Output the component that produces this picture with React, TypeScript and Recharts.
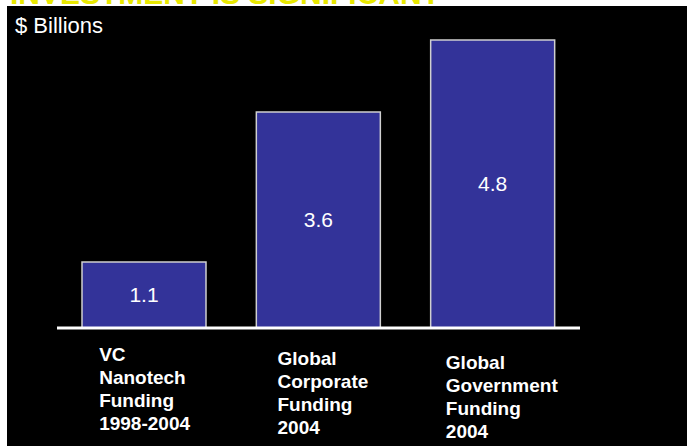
import { BarChart, Bar, XAxis, YAxis, LabelList } from 'recharts';

const categories = [
  'VC|Nanotech|Funding|1998-2004',
  'Global|Corporate|Funding|2004',
  'Global|Government|Funding|2004',
];
const billions = [1.1, 3.6, 4.8];

const data = categories.map((name, i) => ({ name, value: billions[i] }));

// per-label nudges so the tick text sits where the slide had it
const tickDx = [-45, -41, -47];
const tickDy = [33, 37, 41];

function FundingTick(props: any) {
  const { x, y, payload, index } = props;
  const lines = String(payload.value).split('|');
  return (
    <text
      x={x + tickDx[index]}
      y={y + tickDy[index]}
      fill="#fff"
      fontSize={19}
      fontWeight="bold"
      fontFamily="'Liberation Sans', Arial, sans-serif"
      textAnchor="start"
    >
      {lines.map((line, i) => (
        <tspan key={i} x={x + tickDx[index]} dy={i === 0 ? 0 : 23}>
          {line}
        </tspan>
      ))}
    </text>
  );
}

export default function App() {
  return (
    <div
      style={{
        position: 'fixed',
        left: 0,
        top: 0,
        width: 687,
        height: 446,
        background: '#fff',
        overflow: 'hidden',
        fontFamily: "'Liberation Sans', Arial, sans-serif",
      }}
    >
      {/* slide title, mostly cropped off in the source */}
      <div
        style={{
          position: 'absolute',
          left: 10,
          top: -21,
          fontSize: 30,
          lineHeight: '30px',
          fontWeight: 'bold',
          color: '#e8e800',
          whiteSpace: 'nowrap',
        }}
      >
        INVESTMENT IS SIGNIFICANT
      </div>
      <div
        style={{
          position: 'absolute',
          left: 7,
          top: 6,
          width: 680,
          height: 440,
          background: '#000',
        }}
      >
        <div
          style={{
            position: 'absolute',
            left: 8,
            top: 8,
            fontSize: 22,
            color: '#fff',
            lineHeight: '24px',
          }}
        >
          $ Billions
        </div>
        <BarChart
          width={680}
          height={440}
          data={data}
          margin={{ top: 22, right: 107, bottom: 8, left: 50 }}
        >
          <XAxis
            dataKey="name"
            height={110}
            axisLine={{ stroke: '#fff', strokeWidth: 3 }}
            tickLine={false}
            tickSize={0}
            tickMargin={0}
            interval={0}
            tick={(p: any) => <FundingTick {...p} />}
          />
          <YAxis hide domain={[0, 5]} />
          <Bar
            dataKey="value"
            fill="#333399"
            stroke="#d0d0d0"
            strokeWidth={1.5}
            barSize={124}
            isAnimationActive={false}
          >
            <LabelList
              dataKey="value"
              position="center"
              fill="#fff"
              fontSize={21}
              fontFamily="'Liberation Sans', Arial, sans-serif"
            />
          </Bar>
        </BarChart>
      </div>
    </div>
  );
}
